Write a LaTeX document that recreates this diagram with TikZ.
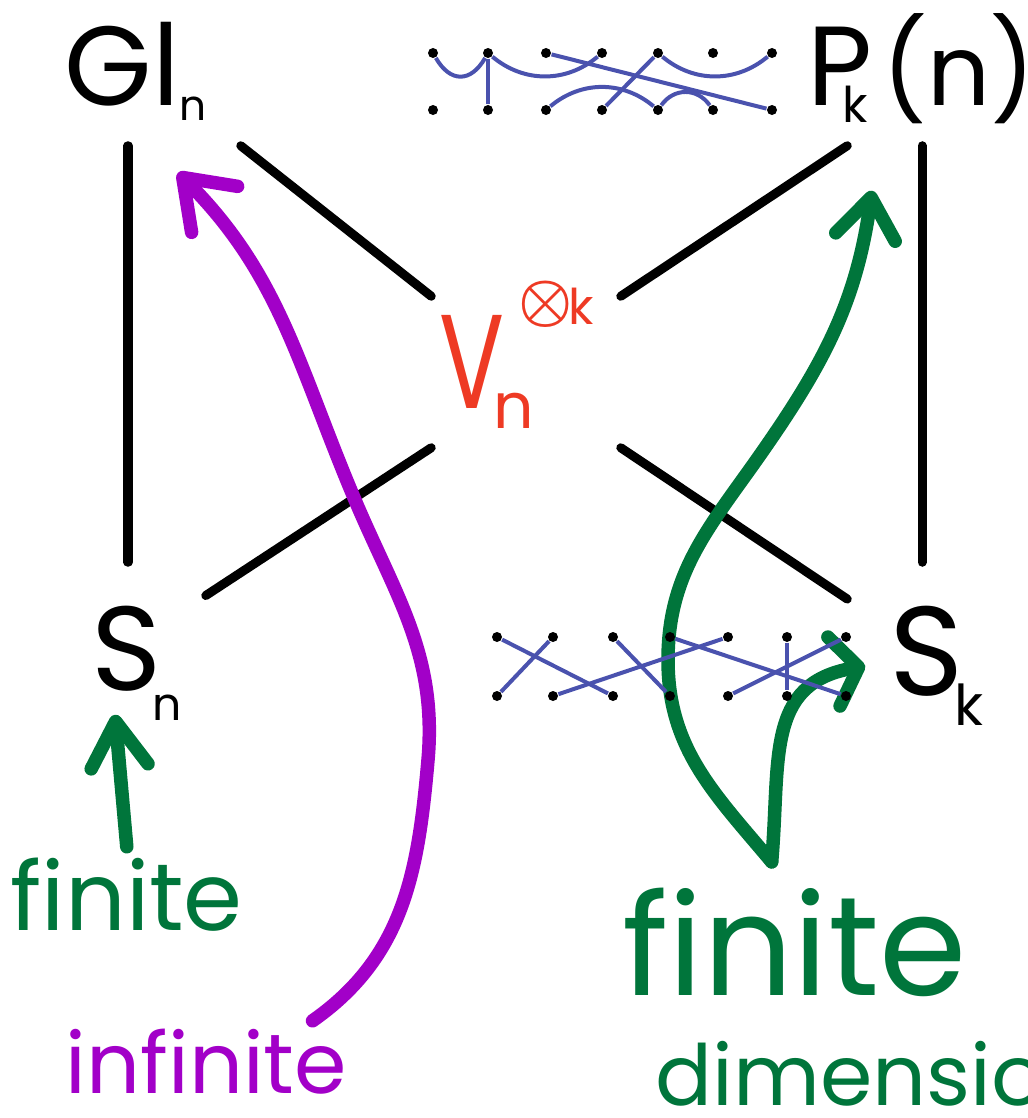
\documentclass[tikz,border=0pt]{standalone}
\usepackage{fontspec}
\setmainfont{Poppins}
\usetikzlibrary{arrows.meta}
\definecolor{inkred}{HTML}{EE3A24}
\definecolor{inkgreen}{HTML}{00753B}
\definecolor{inkpurple}{HTML}{A200C8}
\definecolor{inkblue}{HTML}{4A52AE}
\newcommand{\fs}[1]{\fontsize{#1}{#1}\selectfont}
\newcommand{\piece}[3]{\makebox[0pt][l]{\hspace*{#1}\raisebox{#2}{#3}}}
\tikzset{
  rep/.style ={inner sep=0pt, font=\fs{32}},
  word/.style={anchor=base west, inner sep=0pt},
  ln/.style  ={line width=0.9mm, line cap=round},
  vtx/.style ={circle, fill, inner sep=0pt, minimum size=1mm},
  dg/.style  ={inkblue, line width=0.4mm},
  pen/.style ={line width=1.35mm, line cap=round, line join=round},
}
\begin{document}
\begin{tikzpicture}[x=0.01cm, y=-0.01cm]
  \useasboundingbox (0,0) rectangle (1028,1118);
  % groups and the tensor space
  \node[rep, minimum width=22.4mm, text height=8.5mm, text depth=4mm] (gl) at (128,82.5)
    {\piece{-6.3mm}{0mm}{Gl}\piece{5.1mm}{-1.5mm}{\fs{12}n}};
  \node[rep, minimum width=14.8mm, text height=8.5mm, text depth=4mm] (pk) at (922,82.5)
    {\piece{-11.4mm}{0mm}{P}\piece{-7.9mm}{-1.7mm}{\fs{14}k}\piece{-3.9mm}{0mm}{\fs{28}(n)}};
  \node[rep, minimum width=15.4mm, text height=12.7mm, text depth=4mm] (sn) at (128,646.5)
    {\piece{-3.6mm}{0mm}{\fs{34}S}\piece{2.4mm}{-3mm}{\fs{13}n}};
  \node[rep, minimum width=14.8mm, text height=13.2mm, text depth=4mm] (sk) at (922,649)
    {\piece{-3.2mm}{0mm}{\fs{36}S}\piece{3.2mm}{-3mm}{\fs{16}k}};
  \node[rep, inkred, minimum width=18.8mm, text height=11.1mm, text depth=3.9mm] (v) at (526,372)
    {\piece{-8.6mm}{0mm}{\fs{38}\scalebox{0.72}[1]{V}}\piece{-3.2mm}{-2mm}{\fs{18}n}%
     \piece{-0.8mm}{8.8mm}{\fs{16}\boldmath$\otimes$}\piece{4.2mm}{8.3mm}{\fs{14}k}};
  \draw[ln] (gl.south) -- (sn.north);
  \draw[ln] (pk.south) -- (sk.north);
  \draw[ln] (gl.south east) -- (v.north west);
  \draw[ln] (pk.south west) -- (v.north east);
  \draw[ln] (v.south west) -- (sn);
  \draw[ln] (v.south east) -- (sk);
  % handwritten notes
  \node[word, inkgreen, font=\fs{27}] (fin) at (10,930) {finite};
  \node[word, inkpurple, font=\fs{24}] (inf) at (65,1093) {infinite};
  \node[word, inkgreen, font=\fs{40}] (fin2) at (622,995) {finite};
  \node[word, inkgreen, font=\fs{24}] (dim) at (655,1105) {dimensional};
  \draw[pen, inkgreen, -{Straight Barb[length=4.5mm, width=5.7mm, round]}]
    ([shift={(0,-10)}]fin.north) -- ([shift={(-13,-16)}]sn.south);
  \draw[pen, inkpurple, -{Straight Barb[length=4.5mm, width=6.5mm, round]}]
    ([shift={(-35,-7)}]inf.north east) to[out=35,in=-95] (428,760)
    to[out=85,in=-67] (355,500) to[out=113,in=-45] ([shift={(50,27)}]gl.south);
  \draw[pen, inkgreen, -{Straight Barb[length=4mm, width=6mm, round]}]
    ([shift={(-23,-25)}]fin2.north) to[out=130,in=-90] (668,660)
    to[out=90,in=-125] (760,455) to[out=55,in=-98] ([shift={(-50,45)}]pk.south);
  \draw[pen, inkgreen, -{Straight Barb[length=2.5mm, width=7mm, round]}]
    ([shift={(-23,-25)}]fin2.north) to[out=85,in=190,looseness=1.2] ([shift={(18,17)}]sk.west);
  % partition diagram
  \foreach \i/\x in {1/433,2/488,3/546,4/602,5/658,6/713,7/772} {
    \node[vtx] (pa\i) at (\x,53) {};
    \node[vtx] (pb\i) at (\x,110) {};
  }
  \draw[dg] (pa1) to[out=-60,in=-120,looseness=1.5] (pa2);
  \draw[dg] (pa2) -- (pb2);
  \draw[dg] (pa2) to[out=-40,in=-140] (pa4);
  \draw[dg] (pa3) -- (pb7);
  \draw[dg] (pa5) -- (pb4);
  \draw[dg] (pa5) to[out=-40,in=-140] (pa7);
  \draw[dg] (pb3) to[out=40,in=140] (pb5);
  \draw[dg] (pb5) to[out=55,in=125,looseness=1.15] (pb6);
  % permutation diagram
  \foreach \i/\x in {1/497,2/553,3/613,4/670,5/728,6/787,7/846} {
    \node[vtx] (sa\i) at (\x,637) {};
    \node[vtx] (sb\i) at (\x,696) {};
  }
  \draw[dg] (sa1) -- (sb3);
  \draw[dg] (sa2) -- (sb1);
  \draw[dg] (sa3) -- (sb4);
  \draw[dg] (sb2) -- (sa5);
  \draw[dg] (sa4) -- (sb7);
  \draw[dg] (sa6) -- (sb6);
  \draw[dg] (sa7) -- (sb5);
\end{tikzpicture}
\end{document}
